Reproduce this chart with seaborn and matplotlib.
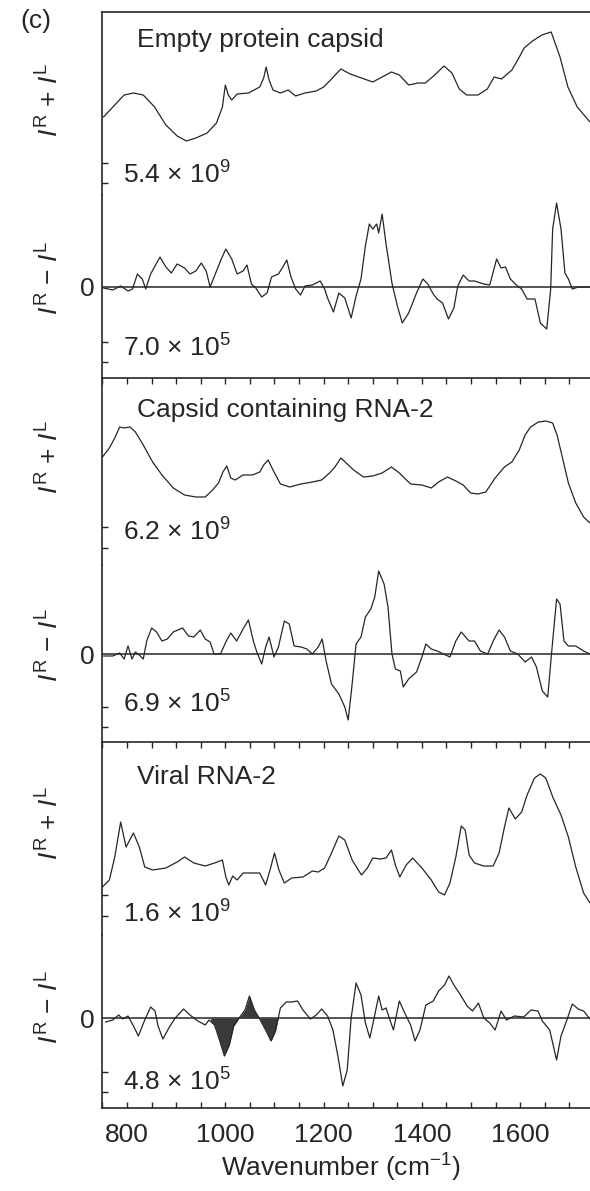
import numpy as np
import matplotlib
matplotlib.use("Agg")
import matplotlib.pyplot as plt
import seaborn as sns

# ---------------- data (wavenumber in cm^-1, intensities in arbitrary units) ----------------
empty_plus_wn = [752, 771, 794, 813, 833, 856, 879, 902, 921, 940, 963, 982, 994, 1000, 1006,
                 1013, 1024, 1047, 1070, 1078, 1083, 1089, 1097, 1112, 1128, 1143, 1162, 1185,
                 1200, 1216, 1235, 1254, 1277, 1300, 1319, 1338, 1354, 1373, 1392, 1407, 1426,
                 1445, 1461, 1476, 1491, 1514, 1533, 1547, 1562, 1583, 1596, 1608, 1625, 1644,
                 1663, 1681, 1697, 1716, 1742]
empty_plus = [66, 76, 88, 90, 88, 76, 58, 47, 42, 45, 50, 60, 76, 98, 88,
              83, 89, 90, 96, 105, 116, 103, 93, 90, 93, 87, 90, 92,
              96, 104, 114, 109, 105, 101, 106, 111, 108, 98, 100, 100, 108,
              117, 110, 94, 88, 88, 94, 106, 104, 113, 124, 135, 142, 148,
              151, 126, 96, 76, 61]

empty_minus_wn = [752, 771, 787, 802, 811, 821, 831, 838, 848, 857,
                  867, 879, 890, 902, 917, 928, 940, 951, 961, 969,
                  978, 990, 1001, 1013, 1024, 1036, 1044, 1053, 1062, 1074,
                  1085, 1094, 1108, 1117, 1125, 1133, 1143, 1153, 1162, 1177,
                  1193, 1202, 1208, 1220, 1231, 1243, 1256, 1266, 1276, 1285,
                  1293, 1300, 1308, 1312, 1319, 1327, 1339, 1350, 1360, 1373,
                  1389, 1402, 1412, 1423, 1431, 1442, 1454, 1465, 1473, 1484,
                  1496, 1507, 1526, 1538, 1552, 1561, 1570, 1580, 1592, 1603,
                  1614, 1630, 1641, 1654, 1662, 1666, 1674, 1683, 1691, 1698,
                  1706, 1718, 1742]
empty_minus = [-1, -3, 1, -4, -2, 13, 8, -2, 13, 21,
               30, 20, 14, 23, 19, 13, 16, 24, 16, 0,
               11, 26, 38, 28, 13, 16, 22, 3, -1, -10,
               -6, 10, 13, 20, 27, 11, -2, -8, 1, 2,
               6, -2, -11, -25, -6, -11, -31, -9, 8, 41,
               63, 58, 63, 54, 73, 43, 4, -19, -36, -26,
               -6, 8, 3, -7, -12, -16, -32, -21, 1, 12,
               6, 6, 3, 2, 28, 19, 20, 8, 2, -2,
               -12, -12, -36, -42, -2, 58, 84, 58, 14, 8,
               -2, 0, 0]

rna_capsid_plus_wn = [750, 764, 775, 785, 794, 806, 817, 833, 852, 871,
                      894, 917, 940, 959, 974, 986, 995, 1003, 1011, 1020,
                      1036, 1055, 1070, 1078, 1087, 1097, 1112, 1131, 1154, 1177,
                      1196, 1212, 1223, 1235, 1246, 1261, 1281, 1300, 1319, 1338,
                      1354, 1377, 1400, 1419, 1434, 1452, 1469, 1484, 1499, 1514,
                      1530, 1549, 1568, 1583, 1598, 1610, 1621, 1637, 1652, 1666,
                      1675, 1687, 1698, 1713, 1729, 1742]
rna_capsid_plus = [91, 100, 110, 121, 120, 121, 116, 103, 86, 73,
                   60, 53, 51, 51, 58, 65, 76, 82, 70, 68,
                   73, 73, 76, 83, 88, 78, 64, 61, 64, 66,
                   68, 75, 81, 90, 85, 78, 71, 72, 75, 81,
                   75, 64, 63, 60, 66, 71, 67, 63, 55, 54,
                   56, 70, 81, 86, 98, 113, 121, 126, 127, 125,
                   113, 88, 65, 45, 31, 25]

rna_capsid_minus_wn = [752, 771, 785, 794, 802, 810, 817, 827, 833, 840,
                       850, 860, 871, 882, 894, 913, 925, 936, 949, 959,
                       969, 977, 990, 1001, 1011, 1023, 1036, 1047, 1057, 1064,
                       1074, 1082, 1089, 1099, 1108, 1120, 1130, 1140, 1154, 1166,
                       1177, 1189, 1197, 1205, 1216, 1231, 1243, 1250, 1258, 1266,
                       1276, 1285, 1296, 1304, 1312, 1323, 1331, 1339, 1346, 1356,
                       1362, 1373, 1389, 1400, 1408, 1419, 1431, 1444, 1457, 1469,
                       1480, 1496, 1507, 1519, 1534, 1545, 1557, 1568, 1580, 1595,
                       1610, 1623, 1633, 1645, 1656, 1664, 1674, 1681, 1689, 1698,
                       1713, 1729, 1742]
rna_capsid_minus = [-2, -2, 1, -5, 8, -5, 2, -2, -5, 13,
                    26, 22, 13, 15, 22, 26, 18, 17, 24, 15,
                    12, 0, 0, 12, 21, 13, 25, 34, 13, 2,
                    -10, 7, 17, -3, 7, 33, 30, 8, 7, 5,
                    0, 7, 15, -7, -30, -40, -53, -66, -30, 10,
                    17, 37, 45, 57, 83, 70, 47, 0, -15, -17,
                    -33, -25, -18, -3, 10, 5, 3, 0, -3, 13,
                    22, 13, 13, 3, 0, 13, 24, 17, 3, 0,
                    -8, -3, -13, -37, -43, 2, 55, 50, 13, 8,
                    8, 3, 0]

viral_plus_wn = [750, 764, 775, 787, 798, 813, 825, 836, 852, 879,
                 902, 917, 936, 959, 978, 994, 1001, 1007, 1015, 1024,
                 1036, 1051, 1070, 1082, 1092, 1100, 1109, 1120, 1135, 1158,
                 1177, 1189, 1202, 1216, 1231, 1243, 1258, 1277, 1289, 1300,
                 1315, 1327, 1338, 1346, 1355, 1368, 1381, 1400, 1419, 1434,
                 1446, 1457, 1469, 1480, 1488, 1496, 1507, 1526, 1545, 1557,
                 1568, 1577, 1590, 1603, 1614, 1629, 1641, 1652, 1667, 1683,
                 1698, 1713, 1729, 1742]
viral_plus = [30, 37, 60, 95, 70, 84, 70, 50, 47, 49,
              55, 60, 54, 51, 54, 57, 40, 32, 41, 37,
              44, 44, 44, 32, 49, 64, 47, 34, 39, 40,
              46, 45, 49, 64, 81, 77, 57, 42, 49, 59,
              58, 59, 67, 52, 40, 52, 59, 49, 37, 25,
              22, 34, 60, 91, 87, 62, 54, 51, 51, 64,
              90, 109, 98, 105, 122, 139, 143, 139, 119, 102,
              80, 50, 24, 14]

viral_minus_wn = [756, 771, 783, 791, 802, 813, 823, 836, 848, 857,
                  863, 873, 885, 898, 915, 928, 944, 959, 967, 978,
                  990, 998, 1008, 1017, 1028, 1040, 1049, 1059, 1070, 1082,
                  1093, 1102, 1112, 1124, 1135, 1147, 1158, 1173, 1185, 1196,
                  1208, 1219, 1229, 1239, 1248, 1256, 1266, 1276, 1285, 1294,
                  1304, 1312, 1319, 1327, 1335, 1342, 1354, 1365, 1377, 1386,
                  1396, 1408, 1423, 1434, 1446, 1455, 1465, 1476, 1492, 1503,
                  1515, 1526, 1538, 1549, 1561, 1572, 1588, 1607, 1622, 1636,
                  1645, 1660, 1674, 1683, 1695, 1706, 1718, 1729, 1742]
viral_minus = [-4, -2, 3, -1, 2, -8, -18, -2, 11, 7,
               -8, -21, -10, 0, 9, 3, -3, -7, -2, -7,
               -25, -38, -27, -8, 0, 8, 22, 8, -1, -12,
               -23, -13, 10, 16, 16, 17, 8, -1, 3, 9,
               2, -12, -38, -68, -52, 0, 35, 23, -5, -20,
               3, 22, 8, 10, -2, -12, 17, 5, -7, -23,
               -12, 13, 17, 27, 33, 42, 33, 25, 12, 7,
               15, 0, -5, -12, 7, -2, 2, 1, 8, 7,
               -3, -12, -42, -18, -2, 14, 9, 7, -1]

shaded_range = (970, 1108)  # backbone bands highlighted in the viral RNA ROA spectrum

panel_titles = ["Empty protein capsid", "Capsid containing RNA-2", "Viral RNA-2"]
scale_labels = ["5.4 × 10$^{9}$", "7.0 × 10$^{5}$", "6.2 × 10$^{9}$",
                "6.9 × 10$^{5}$", "1.6 × 10$^{9}$", "4.8 × 10$^{5}$"]
scale_bars = [(0, 20), (-55, -75), (0, 21), (-53, -73), (1, 22), (-54, -74)]
scale_text_y = [8, -61, 16, -50, 3, -64]
x_major_ticks = [800, 1000, 1200, 1400, 1600]

# ---------------- style ----------------
sns.set_theme(style="white")
plt.rcParams["font.family"] = ["Liberation Sans", "DejaVu Sans"]
plt.rcParams["mathtext.fontset"] = "custom"
plt.rcParams["mathtext.rm"] = "Liberation Sans"
plt.rcParams["mathtext.it"] = "Liberation Sans:italic"
plt.rcParams["mathtext.default"] = "regular"

INK = "#262626"
FS = 19
W, H = 590, 1191
fig = plt.figure(figsize=(W / 100, H / 100), dpi=100)
fig.patch.set_facecolor("white")

XL, XR = 101.5, 590
XLIM = (748, 1742)
rows = [(12, 195), (195, 378), (378, 565), (565, 742), (742, 935), (935, 1108)]
ylims = [(-12, 171), (-91, 92), (-17, 170), (-88, 89), (-18, 175), (-90, 83)]

series = [(empty_plus_wn, empty_plus), (empty_minus_wn, empty_minus),
          (rna_capsid_plus_wn, rna_capsid_plus), (rna_capsid_minus_wn, rna_capsid_minus),
          (viral_plus_wn, viral_plus), (viral_minus_wn, viral_minus)]

axes = []
for i, ((top, bot), (wn, val)) in enumerate(zip(rows, series)):
    ax = fig.add_axes([XL / W, 1 - bot / H, (XR - XL) / W, (bot - top) / H])
    ax.set_facecolor("none")
    is_minus = i % 2 == 1
    if is_minus:
        ax.axhline(0, color=INK, lw=1.1, zorder=1)
    sns.lineplot(x=np.array(wn), y=np.array(val), ax=ax, color=INK, linewidth=0.9,
                 estimator=None, legend=False, zorder=2)
    ax.set_xlim(*XLIM)
    ax.set_ylim(*ylims[i])
    ax.set_xlabel("")
    ax.set_ylabel("")
    for s in ax.spines.values():
        s.set_color(INK)
        s.set_linewidth(1.2)
    ax.spines["right"].set_visible(False)
    ax.spines["top"].set_visible(i in (0, 2, 4))
    ax.spines["bottom"].set_visible(i == 5)

    # y: scale-bar ticks (minor) and zero label (major)
    if is_minus:
        ax.set_yticks([0])
        ax.set_yticklabels(["0"])
    else:
        ax.set_yticks([])
    ax.set_yticks(list(scale_bars[i]), minor=True)
    ax.tick_params(axis="y", which="major", left=True, length=0, pad=4.7,
                   labelsize=FS, labelcolor=INK)
    ax.tick_params(axis="y", which="minor", left=True, direction="in", length=4.5,
                   width=1.0, color=INK)
    ax.text(0.044, scale_text_y[i], scale_labels[i], transform=ax.get_yaxis_transform(),
            ha="left", va="center", fontsize=FS, color=INK)

    # x ticks
    if i in (2, 4):
        ax.xaxis.set_major_locator(matplotlib.ticker.MultipleLocator(50))
        ax.tick_params(axis="x", which="major", top=True, bottom=False, direction="in",
                       length=4.5, width=1.0, color=INK, labeltop=False, labelbottom=False)
    elif i == 5:
        ax.set_xticks(x_major_ticks)
        ax.set_xticklabels([str(t) for t in x_major_ticks])
        ax.xaxis.set_minor_locator(matplotlib.ticker.MultipleLocator(50))
        ax.tick_params(axis="x", which="both", bottom=True, top=False, direction="in",
                       length=4.5, width=1.0, color=INK, labelsize=FS, labelcolor=INK, pad=11)
    else:
        ax.set_xticks([])
    axes.append(ax)

# shaded bands in the viral RNA-2 ROA spectrum
ax6 = axes[5]
xs = np.linspace(shaded_range[0], shaded_range[1], 400)
ys = np.interp(xs, viral_minus_wn, viral_minus)
ax6.fill_between(xs, ys, 0, color="#3a3a3a", linewidth=0, zorder=1.5)


def ftext(px, py, s, **kw):
    fig.text(px / W, 1 - py / H, s, color=INK, **kw)


ftext(36, 21, "(c)", fontsize=FS, ha="center", va="center")
for (py, title) in zip([40, 410, 777], panel_titles):
    ftext(137, py, title, fontsize=FS, ha="left", va="center")

plus_label = r"$\mathit{I}^{\mathrm{R}}$ + $\mathit{I}^{\mathrm{L}}$"
minus_label = r"$\mathit{I}^{\mathrm{R}}$ $-$ $\mathit{I}^{\mathrm{L}}$"
for (py, lab) in zip([100, 278, 457, 645, 823, 1007],
                     [plus_label, minus_label] * 3):
    ftext(50, py, lab, fontsize=FS, rotation=90, ha="center", va="center")

ftext(341, 1168, "Wavenumber (cm$^{-1}$)", fontsize=FS, ha="center", va="center")

fig.savefig("out.png", dpi=100, facecolor="white")
